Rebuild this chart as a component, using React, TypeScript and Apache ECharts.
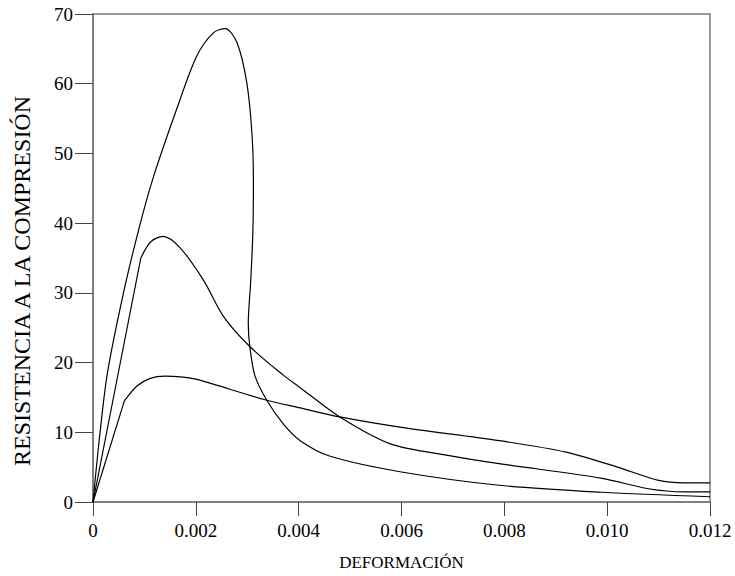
import React, { useEffect, useRef } from "react";
import * as echarts from "echarts";

// Tick settings
const xMin = 0;
const xMax = 0.012;
const xStep = 0.002;
const yMin = 0;
const yMax = 70;
const yStep = 10;

// Curve A (high-strength, peak ~68)
const strainA = [0, 0.00013, 0.00028, 0.00059, 0.0009, 0.00117, 0.00163, 0.00202, 0.00234, 0.00257, 0.0028, 0.00299, 0.00309, 0.00312, 0.00311, 0.00307, 0.00302, 0.00305, 0.00315, 0.00338, 0.0037, 0.00403, 0.0046, 0.006, 0.0079, 0.0099, 0.012];
const stressA = [0, 9.5, 18.5, 29.9, 39.4, 46.5, 56.4, 64, 67.3, 67.9, 65.9, 60.2, 53, 46, 39, 32, 25.6, 22.3, 18.1, 14.6, 11.2, 8.8, 6.6, 4.3, 2.4, 1.4, 0.75];

// Curve B (peak ~38): elastic part and post-kink part
const strainBLin = [0, 0.00093];
const stressBLin = [0, 35];
const strainB = [0.00093, 0.00112, 0.00136, 0.00169, 0.00215, 0.00254, 0.00305, 0.0037, 0.00403, 0.0048, 0.0058, 0.0069, 0.0079, 0.0099, 0.0108, 0.0115, 0.012];
const stressB = [35, 37.3, 38.1, 36.5, 31.8, 26.6, 22.3, 18.2, 16.4, 12.2, 8.3, 6.7, 5.5, 3.4, 1.9, 1.45, 1.45];

// Curve C (peak ~18): elastic part and post-kink part
const strainCLin = [0, 0.00061];
const stressCLin = [0, 14.5];
const strainC = [0.00061, 0.00085, 0.0011, 0.0014, 0.0017, 0.00202, 0.00234, 0.00338, 0.00403, 0.0048, 0.006, 0.0079, 0.0092, 0.0102, 0.011, 0.0115, 0.012];
const stressC = [14.5, 16.6, 17.7, 18.05, 17.95, 17.6, 16.9, 14.6, 13.5, 12.2, 10.7, 8.8, 7.15, 5.0, 3.1, 2.75, 2.75];

const xTitle = "DEFORMACIÓN";
const yTitle = "RESISTENCIA A LA COMPRESIÓN";

const zip = (xs: number[], ys: number[]) => xs.map((x, i) => [x, ys[i]]);

export default function App() {
  const ref = useRef<HTMLDivElement>(null);
  useEffect(() => {
    document.body.style.margin = "0";
    const chart = echarts.init(ref.current as HTMLDivElement, null, { renderer: "svg" });
    const font = "Liberation Serif";
    const axisGray = "#777777";
    const base = (data: number[][], smooth: number | boolean) => ({
      type: "line",
      data,
      showSymbol: false,
      symbol: "none",
      smooth,
      silent: true,
      lineStyle: { color: "#000000", width: 1.2 },
    });
    chart.setOption({
      animation: false,
      textStyle: { fontFamily: font, color: "#000" },
      grid: {
        left: 93,
        right: 25,
        top: 14,
        bottom: 69,
        show: true,
        borderColor: axisGray,
        borderWidth: 1.5,
        backgroundColor: "transparent",
      },
      graphic: [
        {
          type: "text",
          x: 22,
          y: 281,
          rotation: Math.PI / 2,
          silent: true,
          style: {
            text: yTitle,
            fill: "#000",
            font: "24px 'Liberation Serif'",
            align: "center",
            verticalAlign: "middle",
          },
        },
      ],
      xAxis: {
        type: "value",
        min: xMin,
        max: xMax,
        interval: xStep,
        splitLine: { show: false },
        axisLine: { lineStyle: { color: axisGray, width: 1.5 } },
        axisTick: { length: 14, lineStyle: { color: "#444", width: 1 } },
        axisLabel: {
          formatter: (v: number) => (v === 0 ? "0" : v.toFixed(3)),
          color: "#000",
          fontFamily: font,
          fontSize: 19,
          margin: 19,
        },
        name: xTitle,
        nameLocation: "middle",
        nameGap: 52,
        nameTextStyle: { color: "#000", fontFamily: font, fontSize: 17 },
      },
      yAxis: {
        type: "value",
        min: yMin,
        max: yMax,
        interval: yStep,
        splitLine: { show: false },
        axisLine: { lineStyle: { color: axisGray, width: 1.5 } },
        axisTick: { length: 18, lineStyle: { color: "#444", width: 1 } },
        axisLabel: {
          color: "#000",
          fontFamily: font,
          fontSize: 19,
          margin: 20,
        },
      },
      series: [
        base(zip(strainA, stressA), 0.3),
        base(zip(strainBLin, stressBLin), false),
        base(zip(strainB, stressB), 0.3),
        base(zip(strainCLin, stressCLin), false),
        base(zip(strainC, stressC), 0.3),
      ],
    });
    return () => chart.dispose();
  }, []);
  return <div ref={ref} style={{ width: 735, height: 576 }} />;
}
